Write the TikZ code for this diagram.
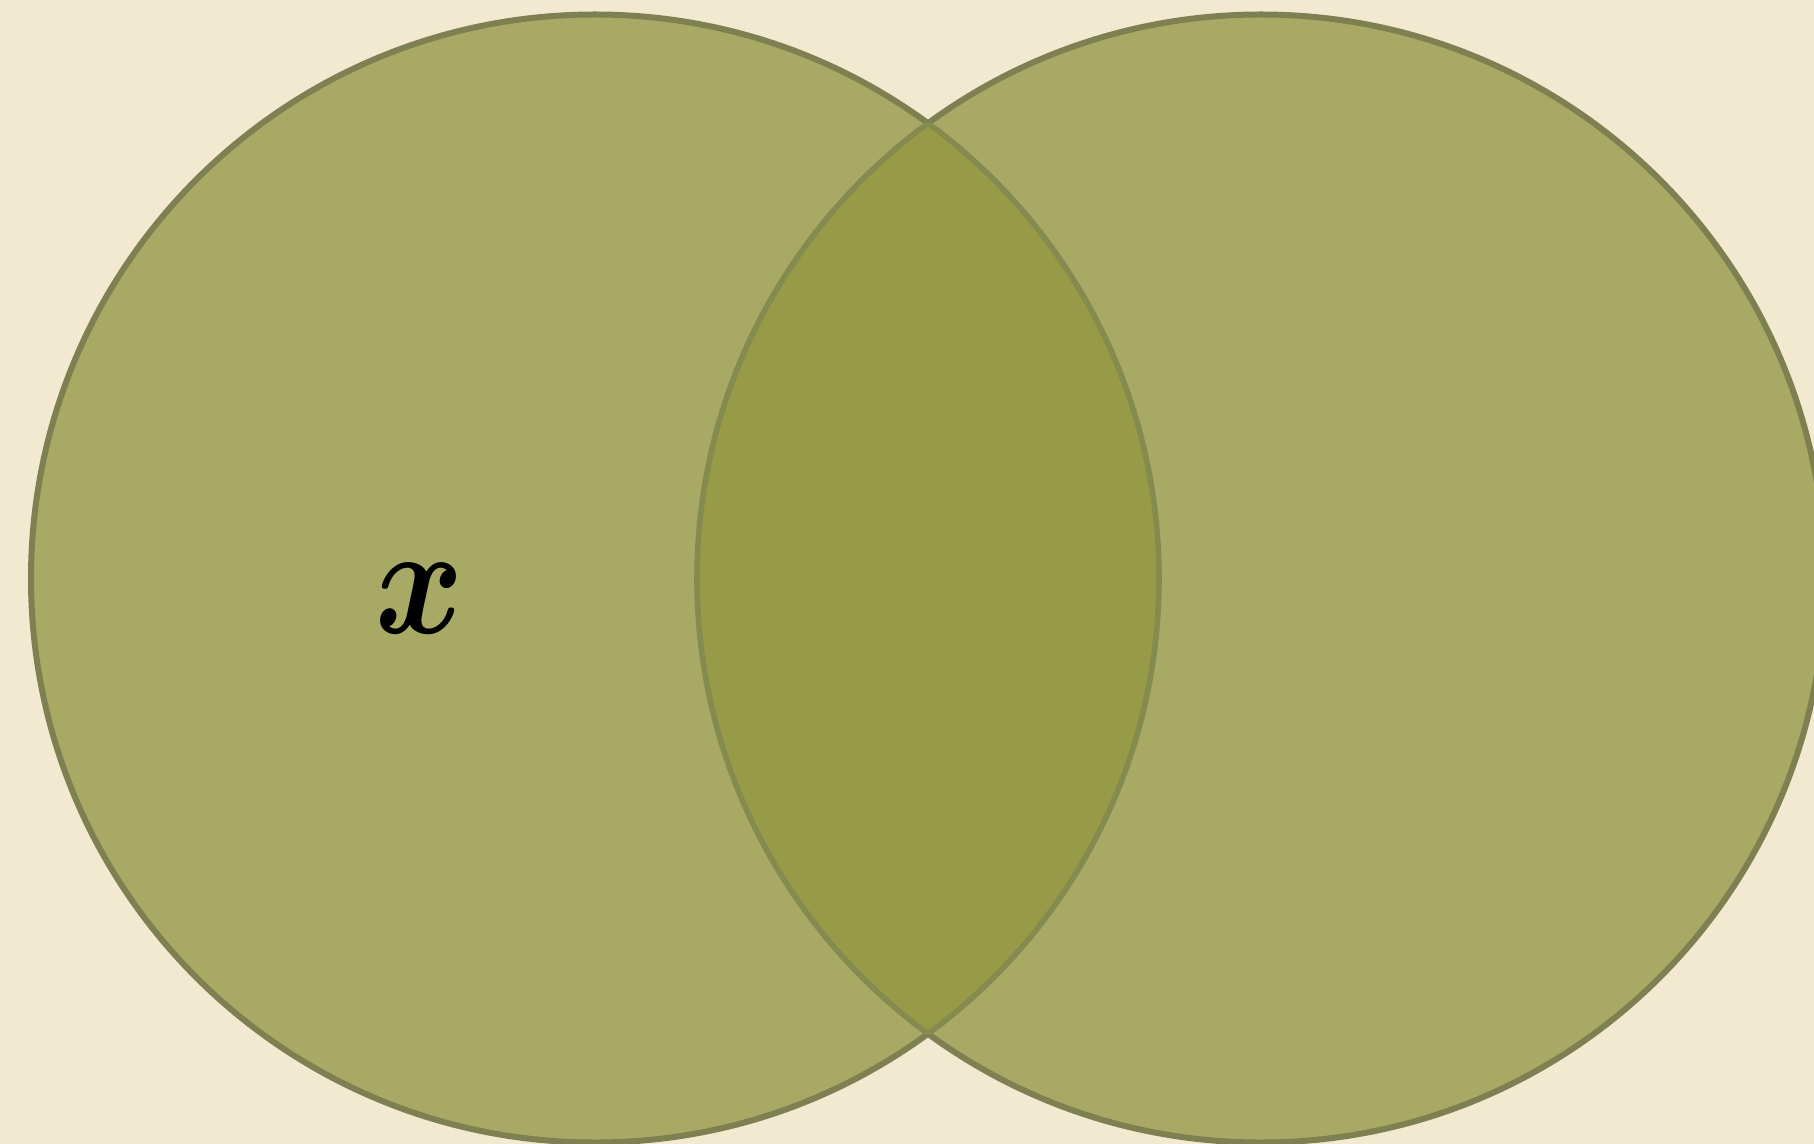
\documentclass[tikz,border=0pt]{standalone}
\usepackage{bm}
\definecolor{bgcol}{HTML}{F2EAD0}
\definecolor{single}{HTML}{A7A965}
\definecolor{lens}{HTML}{979B48}
\definecolor{rimout}{HTML}{7F8052}
\definecolor{rimin}{HTML}{858A4E}
\tikzset{
  rim/.style={line width=3pt, draw=rimout},
  innerrim/.style={line width=2.8pt, draw=rimin},
}
\begin{document}
\begin{tikzpicture}[x=0.5pt,y=-0.5pt]
\fill[bgcol] (0,0) rectangle (1814,1144);
\useasboundingbox (0,0) rectangle (1814,1144);
\coordinate (L) at (595,578.5);
\coordinate (R) at (1261,578.5);
\fill[single] (L) circle[radius=282pt];
\fill[single] (R) circle[radius=282pt];
\begin{scope}
  \clip (L) circle[radius=282pt];
  \fill[lens] (R) circle[radius=282pt];
\end{scope}
% outer rims
\begin{scope}[even odd rule]
  \clip (-10,-10) rectangle (1830,1160) (R) circle[radius=282pt];
  \draw[rim] (L) circle[radius=282pt];
\end{scope}
\begin{scope}[even odd rule]
  \clip (-10,-10) rectangle (1830,1160) (L) circle[radius=282pt];
  \draw[rim] (R) circle[radius=282pt];
\end{scope}
% inner rims (inside the lens)
\begin{scope}
  \clip (R) circle[radius=282pt];
  \draw[innerrim] (L) circle[radius=282pt];
\end{scope}
\begin{scope}
  \clip (L) circle[radius=282pt];
  \draw[innerrim] (R) circle[radius=282pt];
\end{scope}
\node[xscale=6.7, yscale=7.85, inner sep=0pt] (xlabel) at (420,598.5) {$\bm{x}$};
\end{tikzpicture}
\end{document}
